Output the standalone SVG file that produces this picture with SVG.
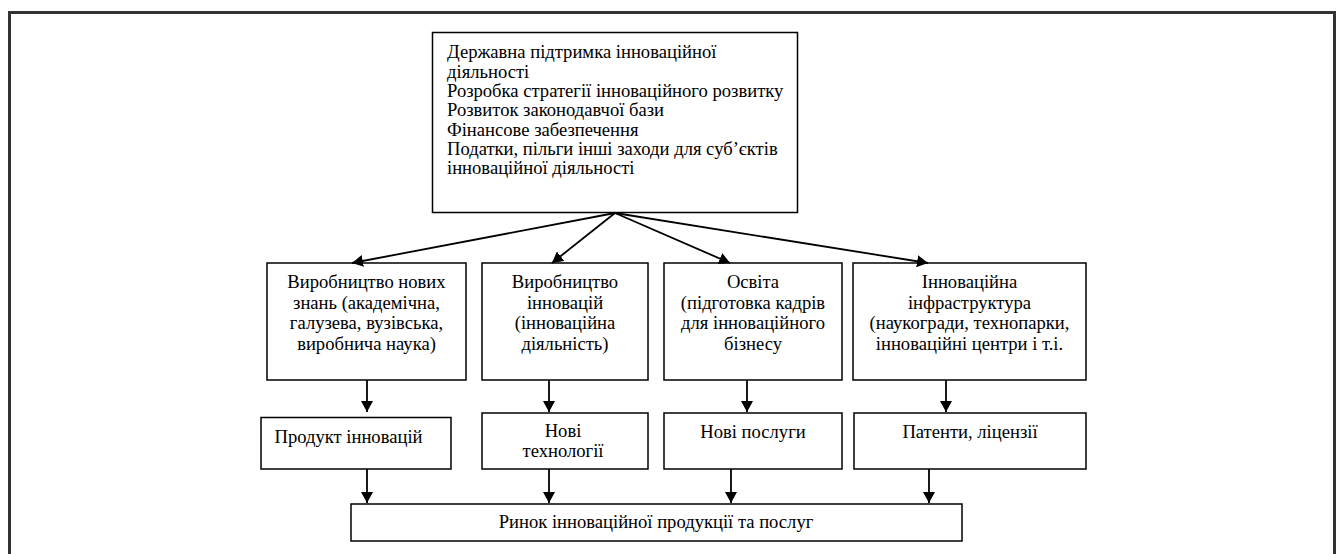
<svg xmlns="http://www.w3.org/2000/svg" width="1340" height="554" viewBox="0 0 1340 554" font-family="'Liberation Serif', 'Times New Roman', serif">
<defs>
<style>
.box{fill:#fff;stroke:#000;stroke-width:1.5}
.t{font-family:'Liberation Serif', 'Times New Roman', serif;font-size:18.6px;fill:#000}
.c{text-anchor:middle}
.con line{stroke:#000;stroke-width:1.8;marker-end:url(#ah)}
</style>
<marker id="ah" markerUnits="userSpaceOnUse" markerWidth="12" markerHeight="12" refX="11" refY="6" orient="auto" viewBox="0 0 12 12">
<path d="M0,0 L11,6 L0,12 z" fill="#000"/>
</marker>
</defs>
<rect x="0" y="0" width="1340" height="554" fill="#fff"/>
<rect x="9.5" y="12.5" width="1325" height="580" fill="none" stroke="#333" stroke-width="3"/>

<g id="top">
<rect class="box" x="432.5" y="32.5" width="365" height="180"/>
<text class="t" x="447" y="58">Державна підтримка інноваційної</text>
<text class="t" x="447" y="77.5">діяльності</text>
<text class="t" x="447" y="97">Розробка стратегії інноваційного розвитку</text>
<text class="t" x="447" y="116">Розвиток законодавчої бази</text>
<text class="t" x="447" y="135.5">Фінансове забезпечення</text>
<text class="t" x="447" y="155">Податки, пільги інші заходи для суб’єктів</text>
<text class="t" x="447" y="174">інноваційної діяльності</text>
</g>

<g id="n1">
<rect class="box" x="267" y="263" width="199" height="117"/>
<text class="t c" x="366.5" y="288">Виробництво нових</text>
<text class="t c" x="366.5" y="308.5">знань (академічна,</text>
<text class="t c" x="366.5" y="329">галузева, вузівська,</text>
<text class="t c" x="366.5" y="349.5">виробнича наука)</text>
</g>
<g id="n2">
<rect class="box" x="482" y="263" width="166" height="117"/>
<text class="t c" x="565" y="288">Виробництво</text>
<text class="t c" x="565" y="308.5">інновацій</text>
<text class="t c" x="565" y="329">(інноваційна</text>
<text class="t c" x="565" y="349.5">діяльність)</text>
</g>
<g id="n3">
<rect class="box" x="664" y="263" width="178" height="117"/>
<text class="t c" x="753" y="288">Освіта</text>
<text class="t c" x="753" y="308.5">(підготовка кадрів</text>
<text class="t c" x="753" y="329">для інноваційного</text>
<text class="t c" x="753" y="349.5">бізнесу</text>
</g>
<g id="n4">
<rect class="box" x="853" y="263" width="233" height="117"/>
<text class="t c" x="969.5" y="288">Інноваційна</text>
<text class="t c" x="969.5" y="308.5">інфраструктура</text>
<text class="t c" x="969.5" y="329">(наукогради, технопарки,</text>
<text class="t c" x="969.5" y="349.5">інноваційні центри і т.і.</text>
</g>

<g id="p1">
<rect class="box" x="261" y="417.5" width="190" height="51.5"/>
<text class="t c" x="348.5" y="443">Продукт інновацій</text>
</g>
<g id="p2">
<rect class="box" x="482" y="413" width="166" height="56"/>
<text class="t c" x="563" y="437">Нові</text>
<text class="t c" x="563" y="457">технології</text>
</g>
<g id="p3">
<rect class="box" x="664" y="413" width="178" height="56"/>
<text class="t c" x="753" y="438">Нові послуги</text>
</g>
<g id="p4">
<rect class="box" x="854" y="413" width="232" height="56"/>
<text class="t c" x="970" y="438">Патенти, ліцензії</text>
</g>

<g id="market">
<rect class="box" x="351" y="504" width="611" height="37"/>
<text class="t c" x="656" y="528">Ринок інноваційної продукції та послуг</text>
</g>

<g class="con" id="connectors">
<line x1="615" y1="213" x2="352" y2="263"/>
<line x1="615" y1="213" x2="552" y2="263"/>
<line x1="615" y1="213" x2="730" y2="263"/>
<line x1="615" y1="213" x2="928" y2="263"/>
<line x1="367" y1="380" x2="367" y2="412"/>
<line x1="549" y1="380" x2="549" y2="412"/>
<line x1="747" y1="380" x2="747" y2="412"/>
<line x1="946" y1="380" x2="946" y2="412"/>
<line x1="367" y1="469" x2="367" y2="503"/>
<line x1="549" y1="469" x2="549" y2="503"/>
<line x1="731" y1="469" x2="731" y2="503"/>
<line x1="929" y1="469" x2="929" y2="503"/>
</g>
</svg>
